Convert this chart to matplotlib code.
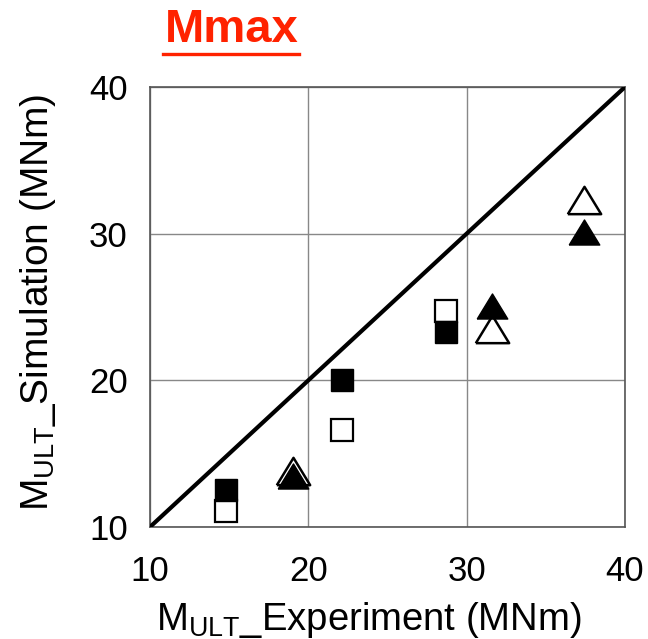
import matplotlib
matplotlib.use("Agg")
import matplotlib.pyplot as plt
from matplotlib.lines import Line2D

plt.rcParams['font.family'] = ['Liberation Sans', 'DejaVu Sans']
plt.rcParams['mathtext.fontset'] = 'custom'
plt.rcParams['mathtext.rm'] = 'Liberation Sans'

# squares (filled / open) and triangles (filled / open), MNm
sq_x = [14.8, 22.1, 28.7]
sq_fill_y = [12.5, 20.0, 23.3]
sq_open_y = [11.1, 16.6, 24.7]
tri_x = [19.0, 31.6, 37.4]
tri_fill_y = [13.5, 25.1, 30.1]
tri_open_y = [13.8, 23.5, 32.3]
ticks = [10, 20, 30, 40]

# wide triangle, closed so the outline is complete
tri = [(-1, -0.82), (1, -0.82), (0, 0.82), (-1, -0.82)]

fig = plt.figure(figsize=(6.48, 6.39), dpi=100)
ax = fig.add_axes([0.2315, 0.1753, 0.733, 0.6886])

ax.plot([10, 40], [10, 40], color='black', lw=3, solid_capstyle='round', zorder=3)

ax.plot(sq_x, sq_open_y, ls='none', marker='s', ms=16.5, mfc='white',
        mec='black', mew=1.6, zorder=4)
ax.plot(sq_x, sq_fill_y, ls='none', marker='s', ms=16.5, mfc='black',
        mec='black', mew=1.0, zorder=5)
ax.plot(tri_x, tri_open_y, ls='none', marker=tri, ms=24, mfc='white',
        mec='black', mew=1.8, zorder=4)
ax.plot(tri_x, tri_fill_y, ls='none', marker=tri, ms=22, mfc='black',
        mec='black', mew=1.0, zorder=5)

ax.set_xlim(10, 40)
ax.set_ylim(10, 40)
ax.set_xticks(ticks)
ax.set_yticks(ticks)
ax.tick_params(length=0, labelsize=25)
ax.tick_params(axis='x', pad=20)
ax.tick_params(axis='y', pad=16)
ax.grid(True, color='#888888', lw=1)
ax.set_axisbelow(True)
for s in ax.spines.values():
    s.set_color('#555555')
    s.set_linewidth(1.2)

ax.set_xlabel(r'M$_{\mathrm{ULT}}$_Experiment (MNm)', fontsize=27.5, labelpad=9)
ax.xaxis.label.set_x(0.46)
ax.set_ylabel(r'M$_{\mathrm{ULT}}$_Simulation (MNm)', fontsize=28, labelpad=22)
ax.yaxis.label.set_y(0.51)

title = fig.text(0.255, 0.935, 'Mmax', color='#ff2200', fontsize=34,
                 fontweight='bold', ha='left', va='baseline')
fig.canvas.draw()
bb = title.get_window_extent().transformed(fig.transFigure.inverted())
fig.add_artist(Line2D([bb.x0 - 0.004, bb.x1], [0.9155, 0.9155],
                      transform=fig.transFigure, color='#ff2200', lw=2.4))

fig.savefig('out.png', dpi=100)
